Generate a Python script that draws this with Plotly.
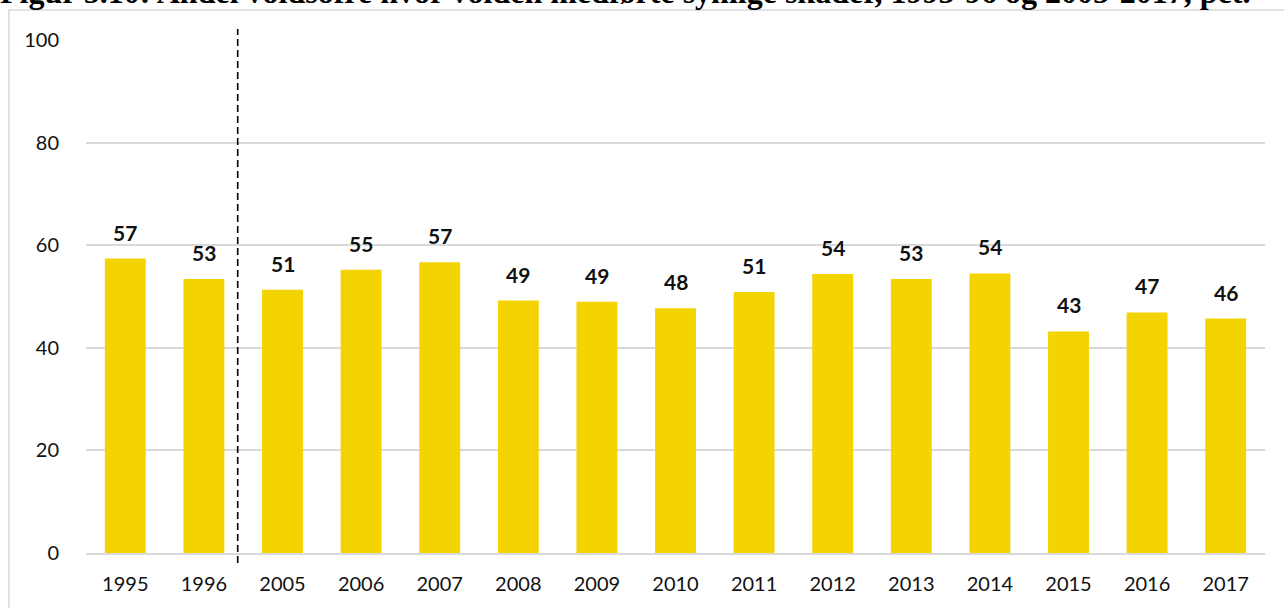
import plotly.graph_objects as go

years = ["1995", "1996", "2005", "2006", "2007", "2008", "2009", "2010",
         "2011", "2012", "2013", "2014", "2015", "2016", "2017"]
values = [57.4, 53.4, 51.3, 55.2, 56.7, 49.2, 49.0, 47.7,
          50.9, 54.4, 53.4, 54.5, 43.2, 46.9, 45.7]
y_ticks = [0, 20, 40, 60, 80, 100]
title_text = "Figur 5.10: Andel voldsofre hvor volden medførte synlige skader, 1995-96 og 2005-2017, pct."
divider_pos = 1.43  # between 1996 and 2005 (category units)

BAR_COLOR = "#F3D400"
GRID = "#D9D9D9"
FONT = "Lato, 'Open Sans', sans-serif"

fig = go.Figure()
fig.add_trace(go.Bar(
    x=list(range(len(years))), y=values,
    marker=dict(color=BAR_COLOR, line=dict(width=0)),
    width=0.52, hoverinfo="skip",
))

for i, v in enumerate(values):
    fig.add_annotation(
        x=i, y=v, xref="x", yref="y", text=f"<b>{round(v)}</b>",
        showarrow=False, yanchor="bottom", yshift=12,
        font=dict(family=FONT, size=21, color="#111111"),
    )

W, H = 1284, 608
ml, mr, mt, mb = 86, 19, 40, 55
plot_h = H - mt - mb
plot_w = W - ml - mr

fig.add_shape(type="line", xref="x", yref="paper",
              x0=divider_pos, x1=divider_pos,
              y0=-10 / plot_h, y1=1 + 11 / plot_h,
              line=dict(color="black", width=1.6, dash="7px,4px"))

# outer border
fig.add_shape(type="rect", xref="paper", yref="paper",
              x0=-(ml - 9) / plot_w, x1=1.2,
              y0=-0.5, y1=1 + (mt - 10) / plot_h,
              line=dict(color=GRID, width=1.5), fillcolor="rgba(0,0,0,0)", layer="above")

fig.add_annotation(
    x=-(ml + 2) / plot_w, xref="paper", xanchor="left",
    y=1 + (mt - 12) / plot_h, yref="paper", yanchor="bottom",
    text=f"<b>{title_text}</b>", showarrow=False,
    font=dict(family="'Liberation Serif', 'Times New Roman', serif", size=32, color="black"),
)

fig.update_layout(
    width=W, height=H,
    margin=dict(l=ml, r=mr, t=mt, b=mb),
    paper_bgcolor="white", plot_bgcolor="white",
    showlegend=False, bargap=0.48,
    font=dict(family=FONT, size=20, color="#111111"),
    xaxis=dict(
        tickmode="array", tickvals=list(range(len(years))), ticktext=years,
        range=[-0.5, len(years) - 0.5], showgrid=False,
        showline=True, linecolor=GRID, linewidth=1.5,
        ticks="outside", ticklen=12, tickcolor="rgba(0,0,0,0)",
        tickfont=dict(family=FONT, size=20, color="#111111"), zeroline=False,
    ),
    yaxis=dict(
        range=[0, 100], tickvals=y_ticks, showgrid=True,
        gridcolor=GRID, gridwidth=1.5, zeroline=False, showline=False,
        ticks="outside", ticklen=22, tickcolor="rgba(0,0,0,0)",
        tickfont=dict(family=FONT, size=20, color="#111111"),
    ),
)

fig.write_html("out.html", config={"displayModeBar": False},
               post_script="document.body.style.margin='0';document.body.style.overflow='hidden';")
